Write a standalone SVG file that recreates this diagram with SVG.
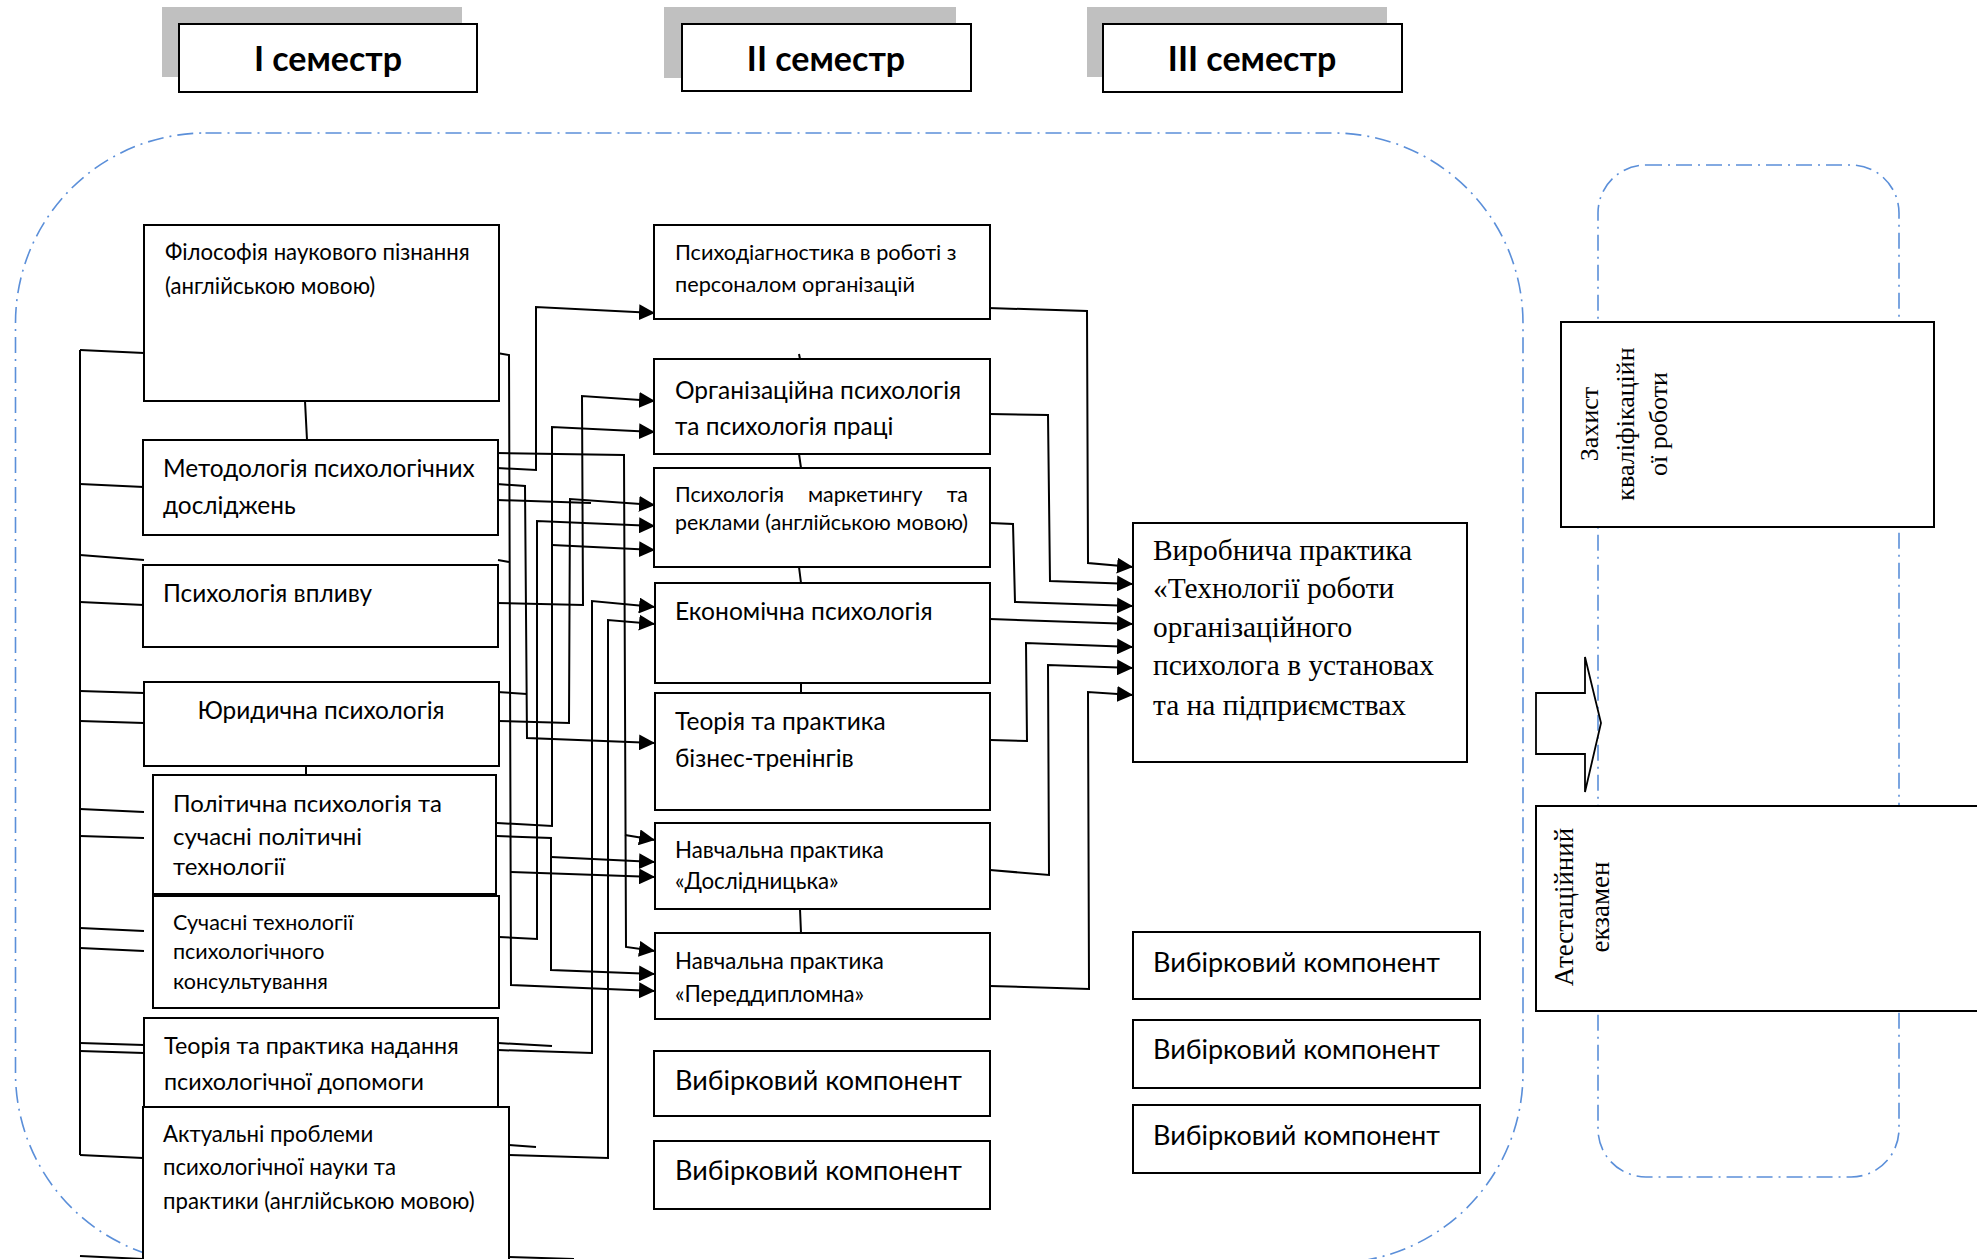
<svg xmlns="http://www.w3.org/2000/svg" width="1977" height="1259" viewBox="0 0 1977 1259">
<style>
.box{fill:#fff;stroke:#000;stroke-width:2}
.hdr{fill:#fff;stroke:#000;stroke-width:2}
.shadow{fill:#c0c0c0}
.dash{fill:none;stroke:#5b8fd9;stroke-width:1.6;stroke-dasharray:16 6 2 6}
.c{fill:none;stroke:#000;stroke-width:2}
.t{font-family:Lato,"Liberation Sans",sans-serif;fill:#000;transform:translateY(1.5px)}
.h{font-family:Lato,"Liberation Sans",sans-serif;font-weight:bold;font-size:34px;text-anchor:middle;fill:#000}
.s{font-family:"Liberation Serif","Times New Roman",serif;fill:#000}
.vb{font-size:27px}
</style>
<defs>
<marker id="ah" markerUnits="userSpaceOnUse" markerWidth="16" markerHeight="16" refX="16" refY="8" orient="auto">
<path d="M0,0 L16,8 L0,16 z" fill="#000"/>
</marker>
</defs>
<rect width="1977" height="1259" fill="#fff"/>

<g id="containers">
<rect class="dash" x="15.5" y="133" width="1507.5" height="1130" rx="190" ry="190"/>
<rect class="dash" x="1598" y="165" width="301" height="1012" rx="48" ry="48"/>
</g>

<g id="hdr1"><rect class="shadow" x="162" y="7" width="300" height="70"/><rect class="hdr" x="179" y="24" width="298" height="68"/><text class="h" x="328" y="71">І семестр</text></g>
<g id="hdr2"><rect class="shadow" x="664" y="7" width="292" height="71"/><rect class="hdr" x="682" y="24" width="289" height="67"/><text class="h" x="826" y="71">ІІ семестр</text></g>
<g id="hdr3"><rect class="shadow" x="1087" y="7" width="300" height="70"/><rect class="hdr" x="1103" y="24" width="299" height="68"/><text class="h" x="1252" y="71">ІІІ семестр</text></g>

<g id="connectors">
<path class="c" d="M80,350 V1155"/>
<path class="c" d="M80,350 L144,353 M80,484 L144,487 M80,555 L144,560 M80,602 L144,605 M80,691 L144,693 M80,721 L144,723 M80,809 L144,812 M80,836 L144,838 M80,928 L144,931 M80,948 L144,951 M80,1043 L144,1045 M80,1051 L144,1053 M80,1155 L143,1158 M80,1256 L143,1259"/>
<path class="c" d="M305,401 L307,440 M306,766 V775 M799,354 L800,359 M799,454 L801,468 M799,567 L801,583 M801,683 V693 M800,909 L801,933"/>
<path class="c" d="M497,353 L509,355 L511,985 L655,991" marker-end="url(#ah)"/>
<path class="c" d="M511,872 L655,877" marker-end="url(#ah)"/>
<path class="c" d="M498,560 L509,562"/>
<path class="c" d="M497,468 L536,470 L536,307 L655,313" marker-end="url(#ah)"/>
<path class="c" d="M497,453 L624,455 L626,947 L655,951" marker-end="url(#ah)"/>
<path class="c" d="M625,835 L655,840" marker-end="url(#ah)"/>
<path class="c" d="M497,484 L525,486 L527,738 L655,743" marker-end="url(#ah)"/>
<path class="c" d="M497,692 L527,694"/>
<path class="c" d="M497,500 L591,503"/>
<path class="c" d="M498,721 L569,723 L570,499 L655,505" marker-end="url(#ah)"/>
<path class="c" d="M497,603 L583,605 L582,396 L655,401" marker-end="url(#ah)"/>
<path class="c" d="M497,823 L552,826 L552,427 L655,432" marker-end="url(#ah)"/>
<path class="c" d="M552,545 L655,550" marker-end="url(#ah)"/>
<path class="c" d="M497,836 L551,838 L551,970 L655,974" marker-end="url(#ah)"/>
<path class="c" d="M551,857 L655,862" marker-end="url(#ah)"/>
<path class="c" d="M499,937 L537,939 L537,521 L655,526" marker-end="url(#ah)"/>
<path class="c" d="M498,1050 L592,1053 L592,601 L655,607" marker-end="url(#ah)"/>
<path class="c" d="M498,1043 L552,1046"/>
<path class="c" d="M509,1155 L608,1158 L608,620 L655,624" marker-end="url(#ah)"/>
<path class="c" d="M509,1145 L536,1147"/>
<path class="c" d="M509,1257 L574,1259"/>
<path class="c" d="M988,308 L1087,311 L1088,563 L1133,567" marker-end="url(#ah)"/>
<path class="c" d="M990,414 L1048,415 L1050,581 L1133,584" marker-end="url(#ah)"/>
<path class="c" d="M990,523 L1013,524 L1015,602 L1133,606" marker-end="url(#ah)"/>
<path class="c" d="M990,619 L1133,624" marker-end="url(#ah)"/>
<path class="c" d="M990,740 L1027,741 L1026,643 L1133,647" marker-end="url(#ah)"/>
<path class="c" d="M990,870 L1049,875 L1048,665 L1133,668" marker-end="url(#ah)"/>
<path class="c" d="M990,986 L1089,989 L1088,692 L1133,695" marker-end="url(#ah)"/>
</g>

<g id="n-filosofiya"><rect class="box" x="144" y="225" width="355" height="176"/><text class="t" font-size="22.2" x="165" y="258">Філософія наукового пізнання</text><text class="t" font-size="22.2" x="165" y="292">(англійською мовою)</text></g>
<g id="n-metodologiya"><rect class="box" x="143" y="440" width="355" height="95"/><text class="t" font-size="24.4" x="163" y="475">Методологія психологічних</text><text class="t" font-size="24.4" x="163" y="512">досліджень</text></g>
<g id="n-vplyv"><rect class="box" x="143" y="565" width="355" height="82"/><text class="t" font-size="24.4" x="163" y="600">Психологія впливу</text></g>
<g id="n-yuryd"><rect class="box" x="144" y="682" width="355" height="84"/><text class="t" font-size="24.4" x="321" y="717" text-anchor="middle">Юридична психологія</text></g>
<g id="n-polit"><rect class="box" x="153" y="775" width="343" height="119"/><text class="t" font-size="24" x="173" y="810">Політична психологія та</text><text class="t" font-size="24" x="173" y="843">сучасні політичні</text><text class="t" font-size="24" x="173" y="873">технології</text></g>
<g id="n-konsult"><rect class="box" x="153" y="896" width="346" height="112"/><text class="t" font-size="21.5" x="173" y="928">Сучасні технології</text><text class="t" font-size="21.5" x="173" y="957">психологічного</text><text class="t" font-size="21.5" x="173" y="987">консультування</text></g>
<g id="n-dopomoga"><rect class="box" x="144" y="1018" width="354" height="89"/><text class="t" font-size="23.3" x="164" y="1052">Теорія та практика надання</text><text class="t" font-size="23.3" x="164" y="1088">психологічної допомоги</text></g>
<g id="n-aktualni"><rect class="box" x="143" y="1107" width="366" height="160"/><text class="t" font-size="22.2" x="163" y="1140">Актуальні проблеми</text><text class="t" font-size="22.2" x="163" y="1173">психологічної науки та</text><text class="t" font-size="22.2" x="163" y="1207">практики (англійською мовою)</text></g>

<g id="n-psykhodiag"><rect class="box" x="654" y="225" width="336" height="94"/><text class="t" font-size="21.7" x="675" y="258">Психодіагностика в роботі з</text><text class="t" font-size="21.7" x="675" y="290">персоналом організацій</text></g>
<g id="n-orgpsy"><rect class="box" x="654" y="359" width="336" height="95"/><text class="t" font-size="24.5" x="675" y="397">Організаційна психологія</text><text class="t" font-size="24.5" x="675" y="433">та психологія праці</text></g>
<g id="n-marketing"><rect class="box" x="654" y="468" width="336" height="99"/><text class="t" font-size="21.4" x="675" y="500">Психологія</text><text class="t" font-size="21.4" x="808" y="500">маркетингу</text><text class="t" font-size="21.4" x="968" y="500" text-anchor="end">та</text><text class="t" font-size="21.4" x="675" y="528">реклами (англійською мовою)</text></g>
<g id="n-ekon"><rect class="box" x="655" y="583" width="335" height="100"/><text class="t" font-size="24.6" x="675" y="618">Економічна психологія</text></g>
<g id="n-biznes"><rect class="box" x="655" y="693" width="335" height="117"/><text class="t" font-size="24.5" x="675" y="728">Теорія та практика</text><text class="t" font-size="24.5" x="675" y="765">бізнес-тренінгів</text></g>
<g id="n-dosl"><rect class="box" x="655" y="823" width="335" height="86"/><text class="t" font-size="22.3" x="675" y="856">Навчальна практика</text><text class="t" font-size="22.3" x="675" y="887">«Дослідницька»</text></g>
<g id="n-peredd"><rect class="box" x="655" y="933" width="335" height="86"/><text class="t" font-size="22.3" x="675" y="967">Навчальна практика</text><text class="t" font-size="22.3" x="675" y="1000">«Переддипломна»</text></g>
<g id="n-vyb1"><rect class="box" x="654" y="1051" width="336" height="65"/><text class="t vb" x="675" y="1088">Вибірковий компонент</text></g>
<g id="n-vyb2"><rect class="box" x="654" y="1141" width="336" height="68"/><text class="t vb" x="675" y="1178">Вибірковий компонент</text></g>

<g id="n-vyrobnycha"><rect class="box" x="1133" y="523" width="334" height="239"/><text class="s" font-size="29.4" x="1153" y="560">Виробнича практика</text><text class="s" font-size="29.4" x="1153" y="598">«Технології роботи</text><text class="s" font-size="29.4" x="1153" y="637">організаційного</text><text class="s" font-size="29.4" x="1153" y="675">психолога в установах</text><text class="s" font-size="29.4" x="1153" y="715">та на підприємствах</text></g>
<g id="n-vyb3"><rect class="box" x="1133" y="932" width="347" height="67"/><text class="t vb" x="1153" y="970">Вибірковий компонент</text></g>
<g id="n-vyb4"><rect class="box" x="1133" y="1020" width="347" height="68"/><text class="t vb" x="1153" y="1057">Вибірковий компонент</text></g>
<g id="n-vyb5"><rect class="box" x="1133" y="1105" width="347" height="68"/><text class="t vb" x="1153" y="1143">Вибірковий компонент</text></g>

<g id="n-zakhyst"><rect class="box" x="1561" y="322" width="373" height="205"/><g class="s" font-size="26" text-anchor="middle"><text transform="translate(1598,424) rotate(-90)">Захист</text><text transform="translate(1634,424) rotate(-90)">кваліфікаційн</text><text transform="translate(1667,424) rotate(-90)">ої роботи</text></g></g>
<g id="n-ekzamen"><rect class="box" x="1536" y="806" width="470" height="205"/><g class="s" font-size="27" text-anchor="middle"><text transform="translate(1573,907) rotate(-90)">Атестаційний</text><text transform="translate(1609,907) rotate(-90)">екзамен</text></g></g>
<g id="n-arrow"><path d="M1536,693 H1585 V657 L1601,723 L1585,792 V754 H1536 Z" fill="none" stroke="#000" stroke-width="1.8"/></g>
</svg>
